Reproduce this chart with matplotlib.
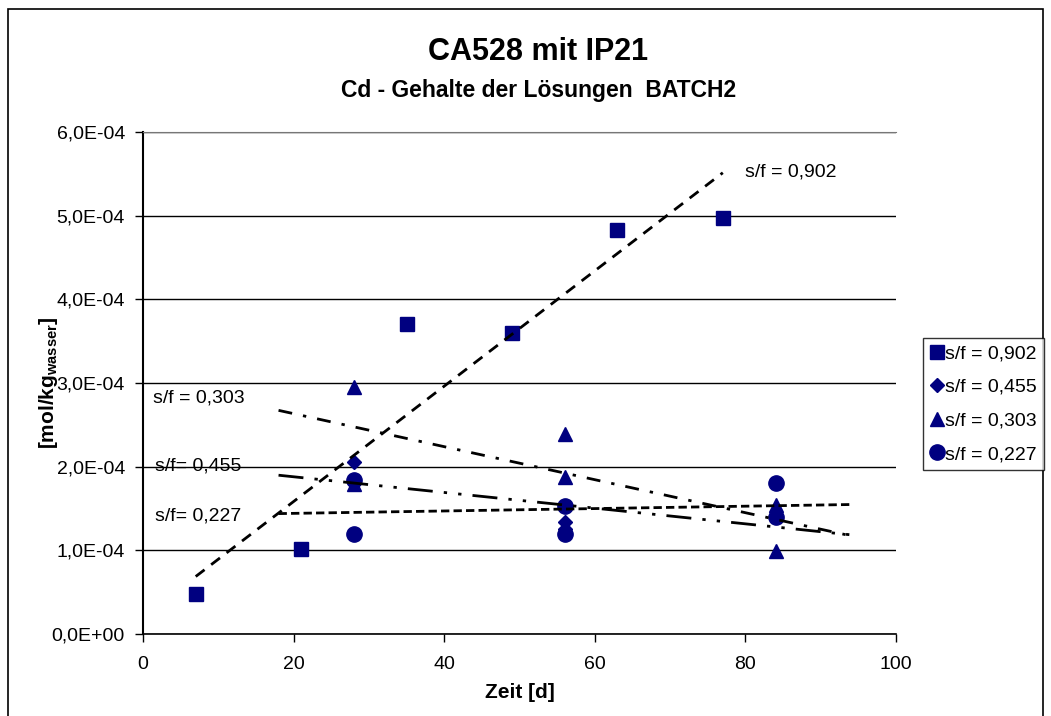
import numpy as np
import matplotlib
matplotlib.use("Agg")
import matplotlib.pyplot as plt
from matplotlib.patches import Rectangle
from matplotlib.ticker import FuncFormatter

plt.rcParams['font.family'] = ['Liberation Sans', 'DejaVu Sans']
plt.rcParams['mathtext.fontset'] = 'custom'
plt.rcParams['mathtext.rm'] = 'Liberation Sans'
plt.rcParams['mathtext.bf'] = 'Liberation Sans:bold'

# Daten: Zeit [d] und Cd-Gehalt [mol/kg Wasser]
zeit_902 = [7, 21, 35, 49, 63, 77]
cd_902 = [0.48e-4, 1.02e-4, 3.70e-4, 3.60e-4, 4.83e-4, 4.97e-4]

zeit_455 = [28, 28, 56, 56, 84, 84]
cd_455 = [2.05e-4, 1.80e-4, 1.34e-4, 1.26e-4, 1.40e-4, 1.40e-4]

zeit_303 = [28, 28, 56, 56, 84, 84]
cd_303 = [2.95e-4, 1.79e-4, 2.39e-4, 1.88e-4, 1.54e-4, 0.99e-4]

zeit_227 = [28, 28, 56, 56, 84, 84]
cd_227 = [1.84e-4, 1.20e-4, 1.53e-4, 1.19e-4, 1.80e-4, 1.40e-4]

labels = ['s/f = 0,902', 's/f = 0,455', 's/f = 0,303', 's/f = 0,227']

navy = '#000080'

fig = plt.figure(figsize=(10.51, 7.16), dpi=100)
ax = fig.add_axes([143/1051, 1 - 634/716, (896 - 143)/1051, (634 - 132)/716])

ax.plot(zeit_902, cd_902, 's', color=navy, ms=10, label=labels[0], zorder=3)
ax.plot(zeit_455, cd_455, 'D', color=navy, ms=7.5, label=labels[1], zorder=3)
ax.plot(zeit_303, cd_303, '^', color=navy, ms=10, label=labels[2], zorder=3)
ax.plot(zeit_227, cd_227, 'o', color=navy, ms=11, label=labels[3], zorder=3)

# lineare Trendlinien (wie Excel), mit Vorwaerts-/Rueckwaertsprognose
def trend(x, y, vor, nach, dashes):
    k, d = np.polyfit(x, y, 1)
    xx = np.array([min(x) - vor, max(x) + nach])
    ax.plot(xx, k * xx + d, color='black', lw=2, dashes=dashes, zorder=4)

trend(zeit_902, cd_902, 0, 0, (4, 3))
trend(zeit_455, cd_455, 10, 10, (9, 4, 1.2, 4, 1.2, 4))
trend(zeit_303, cd_303, 10, 10, (5, 4, 1.2, 4))
trend(zeit_227, cd_227, 10, 10, (3, 1.5))

ax.text(80, 5.52e-4, 's/f = 0,902', fontsize=14, va='center')
ax.text(1.3, 2.82e-4, 's/f = 0,303', fontsize=14, va='center')
ax.text(1.6, 2.01e-4, 's/f= 0,455', fontsize=14, va='center')
ax.text(1.6, 1.41e-4, 's/f= 0,227', fontsize=14, va='center')

ax.set_xlim(0, 100)
ax.set_ylim(0, 6e-4)
ax.set_xticks(range(0, 101, 20))
ax.set_yticks(np.arange(0, 6.01e-4, 1e-4))
ax.yaxis.set_major_formatter(FuncFormatter(lambda v, p: f"{v:.1E}".replace('.', ',')))
ax.tick_params(labelsize=14, direction='out', length=6, width=1, color='black')
ax.tick_params(axis='y', pad=7)
ax.tick_params(axis='x', pad=10)
ax.grid(axis='y', color='black', lw=1)
ax.set_axisbelow(True)
ax.spines['right'].set_visible(False)
ax.spines['top'].set_color('#777777')
ax.spines['left'].set_linewidth(1.5)
ax.spines['bottom'].set_linewidth(1.2)

ax.set_xlabel('Zeit [d]', fontsize=15, fontweight='bold', labelpad=7)
ax.set_ylabel(r'$\mathbf{[mol/kg_{wasser}]}$', fontsize=15, labelpad=-6)

fig.text(538/1051, 1 - 52/716, 'CA528 mit IP21', fontsize=22, fontweight='bold',
         ha='center', va='center')
fig.text(539/1051, 1 - 91/716, 'Cd - Gehalte der Lösungen  BATCH2', fontsize=16.5,
         fontweight='bold', ha='center', va='center')

leg = fig.legend(loc='upper left', bbox_to_anchor=(923/1051, 1 - 338/716),
                 fontsize=14, frameon=True, fancybox=False, edgecolor='black',
                 handlelength=0.7, handletextpad=0.1, labelspacing=0.82,
                 borderpad=0.35, borderaxespad=0)
leg.get_frame().set_linewidth(1)

fig.patches.append(Rectangle((8/1051, -0.02), (1043 - 8)/1051, 1 - 9/716 + 0.02,
                             transform=fig.transFigure, fill=False,
                             edgecolor='black', lw=1.2))

fig.savefig('out.png', dpi=100)
